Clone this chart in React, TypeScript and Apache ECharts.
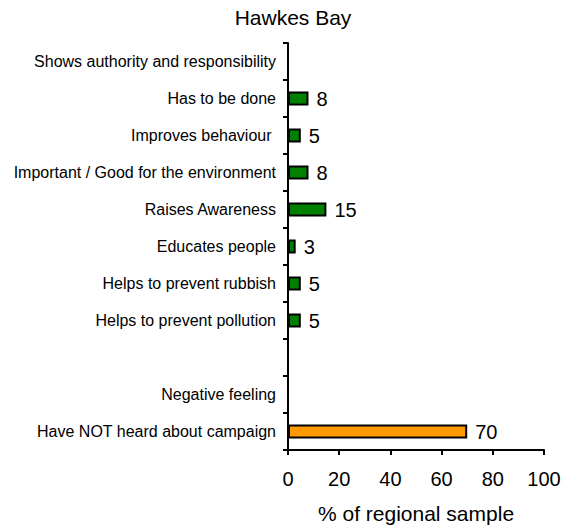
import React, { useEffect, useRef } from "react";
import * as echarts from "echarts";

const title = "Hawkes Bay";
const categories = [
  "Shows authority and responsibility",
  "Has to be done",
  "Improves behaviour ",
  "Important / Good for the environment",
  "Raises Awareness",
  "Educates people",
  "Helps to prevent rubbish",
  "Helps to prevent pollution",
  "",
  "Negative feeling",
  "Have NOT heard about campaign",
];
const values: (number | null)[] = [null, 8, 5, 8, 15, 3, 5, 5, null, null, 70];
const barColors = [
  "#008000", "#008000", "#008000", "#008000", "#008000", "#008000",
  "#008000", "#008000", "#008000", "#FF9900", "#FF9900",
];
const xTicks = [0, 20, 40, 60, 80, 100];
const xName = "% of regional sample";

const FONT = "'Liberation Sans', Arial, Helvetica, sans-serif";

export default function App() {
  const ref = useRef<HTMLDivElement>(null);
  useEffect(() => {
    if (!ref.current) return;
    const chart = echarts.init(ref.current, null, { renderer: "svg" });
    chart.setOption({
      animation: false,
      backgroundColor: "#ffffff",
      title: {
        text: title,
        left: 288,
        top: 2,
        textAlign: "center",
        textStyle: { fontFamily: FONT, fontSize: 21, fontWeight: "normal", color: "#000" },
      },
      grid: { left: 288, right: 23, top: 43, bottom: 80, containLabel: false },
      xAxis: {
        type: "value",
        min: xTicks[0],
        max: xTicks[xTicks.length - 1],
        interval: 20,
        name: xName,
        nameLocation: "middle",
        nameGap: 53,
        nameTextStyle: { fontFamily: FONT, fontSize: 21, color: "#000" },
        axisLine: { show: true, lineStyle: { color: "#000", width: 2 } },
        axisTick: { show: true, length: 5, lineStyle: { color: "#000", width: 2 } },
        axisLabel: { fontFamily: FONT, fontSize: 20, color: "#000", margin: 19 },
        splitLine: { show: false },
      },
      yAxis: {
        type: "category",
        data: categories,
        inverse: true,
        axisLine: { show: true, lineStyle: { color: "#000", width: 2 } },
        axisTick: { show: true, length: 5, interval: 0, lineStyle: { color: "#000", width: 2 } },
        axisLabel: { fontFamily: FONT, fontSize: 16, color: "#000", margin: 12, interval: 0 },
        splitLine: { show: false },
      },
      series: [
        {
          type: "bar",
          barWidth: 14,
          data: values.map((v, i) => ({
            value: v,
            itemStyle: { color: barColors[i], borderColor: "#000", borderWidth: 2 },
          })),
          label: {
            show: true,
            position: "right",
            distance: 8,
            fontFamily: FONT,
            fontSize: 20,
            color: "#000",
          },
        },
      ],
    });
    return () => chart.dispose();
  }, []);
  return <div ref={ref} style={{ width: 567, height: 530, position: "absolute", left: 0, top: 0 }} />;
}
